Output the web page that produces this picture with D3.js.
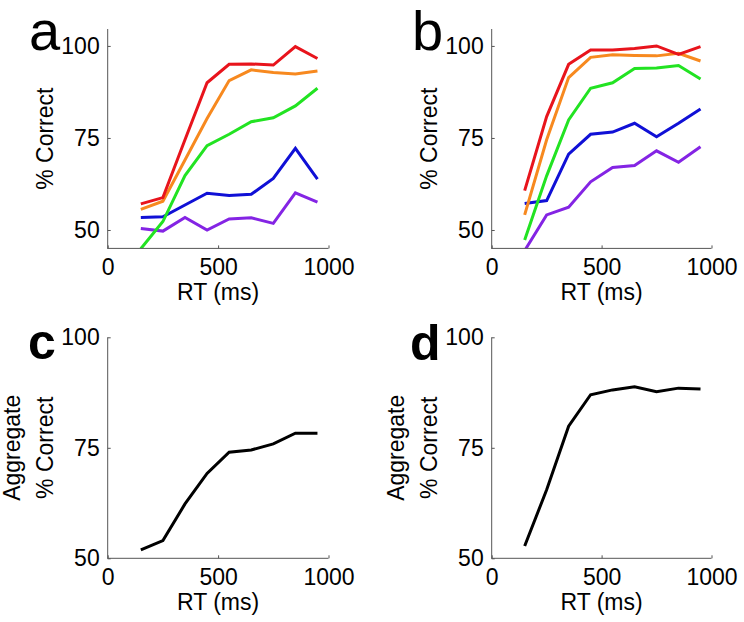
<!DOCTYPE html>
<html>
<head>
<meta charset="utf-8">
<script src="https://cdn.jsdelivr.net/npm/d3@7"></script>
<style>
  html, body { margin: 0; padding: 0; background: #fff; }
  svg { display: block; font-family: "Liberation Sans", Arial, Helvetica, sans-serif; }
</style>
</head>
<body>
<svg id="fig" width="744" height="622"></svg>
<script>
// ---- data ----
const rtBins = [150, 250, 350, 450, 550, 650, 750, 850, 950];
const seriesColors = ["#e8141c", "#f7891f", "#22e322", "#1010d6", "#8424e4"];

const panelA = {
  red:    [57.1, 58.8, 74.5, 90.0, 95.0, 95.1, 94.8, 99.8, 96.6],
  orange: [55.6, 57.8, 69.0, 80.3, 90.6, 93.5, 92.8, 92.4, 93.2],
  green:  [44.9, 52.3, 64.8, 72.9, 76.0, 79.4, 80.5, 83.7, 88.5],
  blue:   [53.4, 53.6, 56.8, 60.0, 59.4, 59.7, 64.0, 72.2, 63.8],
  purple: [50.4, 49.7, 53.4, 50.0, 53.0, 53.3, 51.8, 60.1, 57.6]
};
const panelB = {
  red:    [60.7, 80.8, 95.0, 98.9, 98.9, 99.3, 100.0, 97.7, 99.8],
  orange: [54.1, 74.5, 91.4, 96.9, 97.6, 97.4, 97.3, 98.0, 95.9],
  green:  [47.3, 64.7, 79.9, 88.5, 90.0, 93.9, 94.0, 94.7, 91.0],
  blue:   [57.2, 58.0, 70.6, 76.0, 76.6, 79.0, 75.3, 79.0, 82.9],
  purple: [44.4, 54.1, 56.2, 63.1, 67.0, 67.5, 71.5, 68.4, 72.6]
};
const aggregateC = [51.9, 54.0, 62.3, 69.2, 74.0, 74.5, 75.9, 78.3, 78.3];
const aggregateD = [52.8, 65.5, 79.9, 87.0, 88.1, 88.8, 87.7, 88.5, 88.3];

const xTicks = [0, 500, 1000];
const yTicks = [50, 75, 100];
const seriesOrder = ["purple", "blue", "green", "orange", "red"];
const colorOf = {red: seriesColors[0], orange: seriesColors[1], green: seriesColors[2], blue: seriesColors[3], purple: seriesColors[4]};

// ---- layout ----
const svg = d3.select("#fig");
const panels = [
  {id: "a", letter: "a", bold: false, x0: 107.7, x1: 328.5, yb: 248.4, yt: 29, dom: [45, 104.6], ylabel: ["% Correct"], letterX: 29, letterY: 50, letterSize: 56,
   lines: seriesOrder.map(k => ({values: panelA[k], color: colorOf[k]}))},
  {id: "b", letter: "b", bold: false, x0: 491.7, x1: 711.5, yb: 248.4, yt: 29, dom: [45, 104.6], ylabel: ["% Correct"], letterX: 412, letterY: 50, letterSize: 56,
   lines: seriesOrder.map(k => ({values: panelB[k], color: colorOf[k]}))},
  {id: "c", letter: "c", bold: true, x0: 107.7, x1: 328.5, yb: 558.3, yt: 337.3, dom: [50, 100], ylabel: ["Aggregate", "% Correct"], letterX: 28, letterY: 359, letterSize: 50,
   lines: [{values: aggregateC, color: "#000"}]},
  {id: "d", letter: "d", bold: true, x0: 491.7, x1: 711.5, yb: 558.3, yt: 337.3, dom: [50, 100], ylabel: ["Aggregate", "% Correct"], letterX: 410, letterY: 360, letterSize: 50,
   lines: [{values: aggregateD, color: "#000"}]}
];

const fontSize = 23;
const axisColor = "#555";

panels.forEach(p => {
  const x = d3.scaleLinear().domain([0, 1000]).range([p.x0, p.x1]);
  const y = d3.scaleLinear().domain(p.dom).range([p.yb, p.yt]);
  const g = svg.append("g");

  // clip
  const clipId = "clip-" + p.id;
  svg.append("clipPath").attr("id", clipId).append("rect")
    .attr("x", p.x0).attr("y", p.yt - 5).attr("width", p.x1 - p.x0 + 5).attr("height", p.yb - p.yt + 5);

  // lines
  const line = d3.line().x((d, i) => x(rtBins[i])).y(d => y(d));
  const lg = g.append("g").attr("clip-path", `url(#${clipId})`);
  p.lines.forEach(s => {
    lg.append("path").datum(s.values)
      .attr("d", line)
      .attr("fill", "none")
      .attr("stroke", s.color)
      .attr("stroke-width", 3)
      .attr("stroke-linejoin", "miter");
  });

  // y axis
  const yAxis = d3.axisLeft(y).tickValues(yTicks).tickSize(-3).tickPadding(8).tickFormat(d3.format("d"));
  const ya = g.append("g").attr("transform", `translate(${p.x0},0)`).call(yAxis);
  // x axis
  const xAxis = d3.axisBottom(x).tickValues(xTicks).tickSize(-3).tickPadding(10.5).tickFormat(d3.format("d"));
  const xa = g.append("g").attr("transform", `translate(0,${p.yb})`).call(xAxis);

  [ya, xa].forEach(a => {
    a.selectAll(".tick line").attr("stroke", axisColor);
    a.selectAll(".tick text").attr("font-size", fontSize).attr("fill", "#000")
      .attr("font-family", "'Liberation Sans', Arial, sans-serif");
  });
  // replace domain paths with plain lines (no end caps)
  ya.select(".domain").remove();
  xa.select(".domain").remove();
  g.append("line").attr("x1", p.x0).attr("x2", p.x0).attr("y1", p.yt).attr("y2", p.yb + 0.5)
    .attr("stroke", axisColor).attr("stroke-width", 1);
  g.append("line").attr("x1", p.x0).attr("x2", p.x1).attr("y1", p.yb).attr("y2", p.yb)
    .attr("stroke", axisColor).attr("stroke-width", 1);

  // axis labels
  const xmid = (p.x0 + p.x1) / 2;
  g.append("text").attr("x", xmid).attr("y", p.yb + 52).attr("text-anchor", "middle")
    .attr("font-size", fontSize).text("RT (ms)");

  const ymid = (p.yb + p.yt) / 2;
  const lx = p.x0 - 55;
  if (p.ylabel.length === 1) {
    g.append("text").attr("transform", `translate(${lx},${ymid}) rotate(-90)`)
      .attr("text-anchor", "middle").attr("font-size", fontSize).text(p.ylabel[0]);
  } else {
    g.append("text").attr("transform", `translate(${lx - 33},${ymid}) rotate(-90)`)
      .attr("text-anchor", "middle").attr("font-size", fontSize).text(p.ylabel[0]);
    g.append("text").attr("transform", `translate(${lx},${ymid}) rotate(-90)`)
      .attr("text-anchor", "middle").attr("font-size", fontSize).text(p.ylabel[1]);
  }

  // panel letter
  g.append("text").attr("x", p.letterX).attr("y", p.letterY)
    .attr("font-size", p.letterSize).attr("font-weight", p.bold ? "bold" : "normal")
    .text(p.letter);
});
</script>
</body>
</html>
